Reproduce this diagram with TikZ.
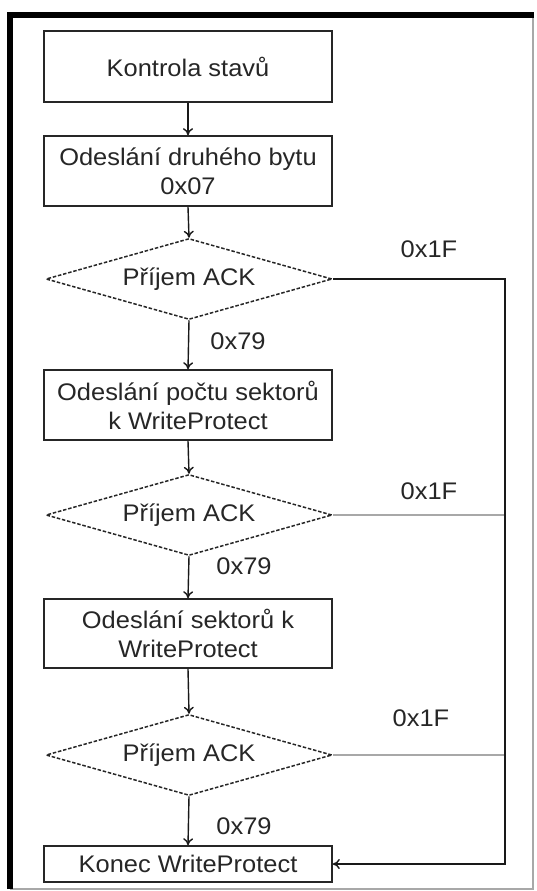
\documentclass[tikz,border=0pt]{standalone}
\usepackage{fontspec}
\newfontfamily\dfont[FakeStretch=1.06]{Liberation Sans}
\usetikzlibrary{shapes.geometric,arrows.meta}
\definecolor{txt}{HTML}{262626}
\definecolor{lgray}{HTML}{A8A8A8}
\begin{document}
\begin{tikzpicture}[x=1pt,y=-1pt,
  every node/.style={font=\dfont\fontsize{24}{29}\selectfont, text=txt},
  procbox/.style={draw=black!85, line width=1.6pt, minimum width=288pt, inner sep=0pt, align=center},
  decide/.style={diamond, draw=black!85, line width=1.5pt, dash pattern=on 3.5pt off 1.8pt,
     minimum width=286pt, minimum height=81pt, inner sep=0pt, aspect=3.5},
  lbl/.style={inner sep=0pt},
  flow/.style={line width=1.4pt, draw=black!90, -{To[length=7pt,width=10pt]}},
  grayline/.style={line width=1.8pt, draw=lgray}]
\useasboundingbox (0,0) rectangle (536,891);
% frame
\draw[lgray, line width=1.5pt] (10,15) -- (533,15) -- (533,889) -- (10,889);
\draw[black, line width=6pt] (10,889) -- (10,15) -- (534,15);
% nodes
\node[procbox, minimum height=71pt] (b1) at (188,66.5) {Kontrola stavů};
\node[procbox, minimum height=70pt] (b2) at (188,171) {Odeslání druhého bytu\\0x07};
\node[decide] (d1) at (189,279) {};
\node[lbl] at (189,279) {Příjem ACK};
\node[procbox, minimum height=70pt] (b3) at (188,405) {Odeslání počtu sektorů\\k WriteProtect};
\node[decide] (d2) at (189,515) {};
\node[lbl] at (189,515) {Příjem ACK};
\node[procbox, minimum height=69pt] (b4) at (188,633.5) {Odeslání sektorů k\\WriteProtect};
\node[decide] (d3) at (189,755) {};
\node[lbl] at (189,755) {Příjem ACK};
\node[procbox, minimum height=36pt] (b5) at (188,864) {Konec WriteProtect};
% labels
\node[lbl] (l1) at (238,341) {0x79};
\node[lbl] (l2) at (244,566) {0x79};
\node[lbl] (l3) at (244,826) {0x79};
\node[lbl] (f1) at (429,249) {0x1F};
\node[lbl] (f2) at (429,491) {0x1F};
\node[lbl] (f3) at (421,718) {0x1F};
% connectors
\coordinate (rt) at (505,279);
\coordinate (rb) at (505,864);
\coordinate (r2) at (505,515);
\coordinate (r3) at (505,755);
\draw[grayline] (d2.east) -- (r2);
\draw[grayline] (d3.east) -- (r3);
\draw[flow] (b1.south) -- (b2.north);
\draw[flow] (b2.south) -- (d1.north);
\draw[flow] (d1.south) -- (b3.north);
\draw[flow] (b3.south) -- (d2.north);
\draw[flow] (d2.south) -- (b4.north);
\draw[flow] (b4.south) -- (d3.north);
\draw[flow] (d3.south) -- (b5.north);
\draw[flow] (d1.east) -- (rt) -- (rb) -- (b5.east);
\end{tikzpicture}
\end{document}
